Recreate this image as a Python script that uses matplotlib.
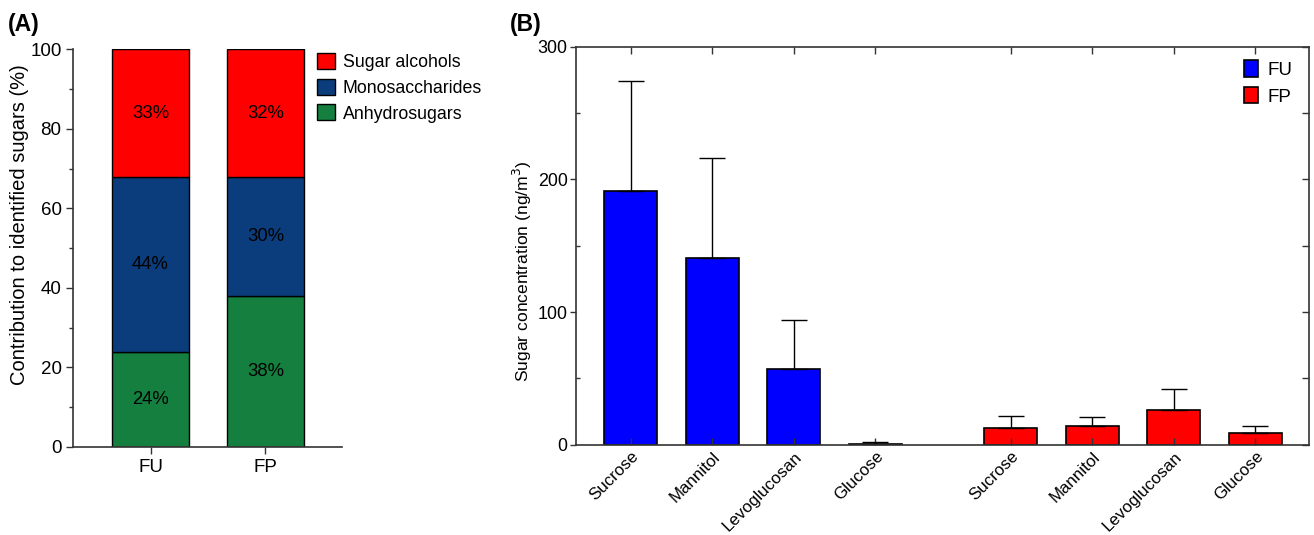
import matplotlib
matplotlib.use("Agg")
import matplotlib.pyplot as plt
from matplotlib.patches import Patch
from matplotlib.ticker import MultipleLocator
import numpy as np

plt.rcParams["font.family"] = ["Liberation Sans", "DejaVu Sans"]

# -----------------------
# DATA
# -----------------------
# panel A: share of identified sugars (%)
groups = ["FU", "FP"]
anhydrosugars = [23.8, 37.9]
monosaccharides = [44.0, 29.9]
sugar_alcohols = [32.2, 32.2]
anhydro_labels = ["24%", "38%"]
mono_labels = ["44%", "30%"]
alcohol_labels = ["33%", "32%"]

# panel B: concentration (ng/m3), mean and upper error
sugars = ["Sucrose", "Mannitol", "Levoglucosan", "Glucose"]
fu_mean = [191.5, 141.0, 57.3, 0.8]
fu_err = [82.5, 75.2, 36.4, 1.5]
fp_mean = [12.4, 14.1, 26.4, 9.0]
fp_err = [9.2, 7.0, 15.8, 4.9]

RED = "#ff0000"
NAVY = "#0b3d7d"
GREEN = "#157f3f"
BLUE = "#0000ff"
SPINE = "#333333"

fig = plt.figure(figsize=(13.14, 5.35), dpi=100)

# -----------------------
# PANEL A
# -----------------------
axA = fig.add_axes([0.0558, 0.1645, 0.2043, 0.7433])
xa = np.arange(len(groups))
w = 0.665
kw = dict(width=w, edgecolor="black", linewidth=1.0)
axA.bar(xa, anhydrosugars, color=GREEN, **kw)
axA.bar(xa, monosaccharides, bottom=anhydrosugars, color=NAVY, **kw)
bottom2 = np.array(anhydrosugars) + np.array(monosaccharides)
axA.bar(xa, sugar_alcohols, bottom=bottom2, color=RED, **kw)

for i in range(len(groups)):
    axA.text(xa[i], anhydrosugars[i] / 2, anhydro_labels[i], ha="center", va="center", fontsize=13.3)
    axA.text(xa[i], anhydrosugars[i] + monosaccharides[i] / 2, mono_labels[i], ha="center", va="center", fontsize=13.3)
    axA.text(xa[i], bottom2[i] + sugar_alcohols[i] / 2, alcohol_labels[i], ha="center", va="center", fontsize=13.3)

axA.set_xlim(-0.672, 1.665)
axA.set_ylim(0, 100)
axA.set_xticks(xa)
axA.set_xticklabels(groups, fontsize=13.5)
axA.yaxis.set_major_locator(MultipleLocator(20))
axA.yaxis.set_minor_locator(MultipleLocator(10))
axA.tick_params(axis="y", which="major", length=5, width=1, labelsize=13.5, color=SPINE)
axA.tick_params(axis="y", which="minor", length=3, width=1, color=SPINE)
axA.tick_params(axis="x", length=5, width=1, color=SPINE)
for s in ["top", "right"]:
    axA.spines[s].set_visible(False)
for s in ["left", "bottom"]:
    axA.spines[s].set_color(SPINE)
    axA.spines[s].set_linewidth(1.2)
axA.set_ylabel("Contribution to identified sugars (%)", fontsize=14.5)
axA.yaxis.set_label_coords(-0.165, 0.558)

handles = [Patch(facecolor=RED, edgecolor="black", label="Sugar alcohols"),
           Patch(facecolor=NAVY, edgecolor="black", label="Monosaccharides"),
           Patch(facecolor=GREEN, edgecolor="black", label="Anhydrosugars")]
fig.legend(handles=handles, loc="upper left", bbox_to_anchor=(0.229, 0.93), frameon=False,
           fontsize=12.8, handlelength=1.0, handleheight=1.0, handletextpad=0.45, labelspacing=0.42)

fig.text(0.006, 0.955, "(A)", fontsize=16.5, fontweight="bold", va="center")

# -----------------------
# PANEL B
# -----------------------
axB = fig.add_axes([0.4384, 0.1688, 0.558, 0.7439])
xb_fu = np.arange(len(sugars))
xb_fp = xb_fu + 4.66
wb = 0.65
zeros = np.zeros(len(sugars))
ekw = dict(ecolor="black", elinewidth=1.0, capsize=9.5, capthick=1.0)
axB.bar(xb_fu, fu_mean, width=wb, color=BLUE, edgecolor="black", linewidth=1.2,
        yerr=[zeros, fu_err], error_kw=ekw, label="FU")
axB.bar(xb_fp, fp_mean, width=wb, color=RED, edgecolor="black", linewidth=1.2,
        yerr=[zeros, fp_err], error_kw=ekw, label="FP")

axB.set_xlim(-0.67, 8.32)
axB.set_ylim(0, 300)
ticks = np.concatenate([xb_fu, xb_fp])
axB.set_xticks(ticks)
axB.set_xticklabels(sugars + sugars, rotation=45, ha="right", rotation_mode="anchor", fontsize=12.2)
axB.tick_params(axis="x", direction="in", top=True, length=5, width=1, color=SPINE, pad=3)
axB.yaxis.set_major_locator(MultipleLocator(100))
axB.yaxis.set_minor_locator(MultipleLocator(50))
axB.tick_params(axis="y", which="major", direction="out", length=4, width=1, labelsize=12.9, color=SPINE, pad=2)
axB.tick_params(axis="y", which="minor", direction="in", length=3, width=1, color=SPINE)
for s in axB.spines.values():
    s.set_color(SPINE)
    s.set_linewidth(1.2)

right = axB.secondary_yaxis("right")
right.yaxis.set_major_locator(MultipleLocator(50))
right.tick_params(direction="in", length=5, width=1, color=SPINE, labelright=False)
right.spines["right"].set_visible(False)

axB.set_ylabel("Sugar concentration (ng/m$^3$)", fontsize=12.6)
axB.yaxis.set_label_coords(-0.057, 0.437)
axB.legend(loc="upper right", frameon=False, fontsize=13.5, handlelength=0.75, handleheight=1.0,
           handletextpad=0.5, labelspacing=0.4, borderaxespad=0.5, bbox_to_anchor=(1.0, 1.008))

fig.text(0.388, 0.955, "(B)", fontsize=16.5, fontweight="bold", va="center")

fig.savefig("out.png", dpi=100)
plt.close(fig)
